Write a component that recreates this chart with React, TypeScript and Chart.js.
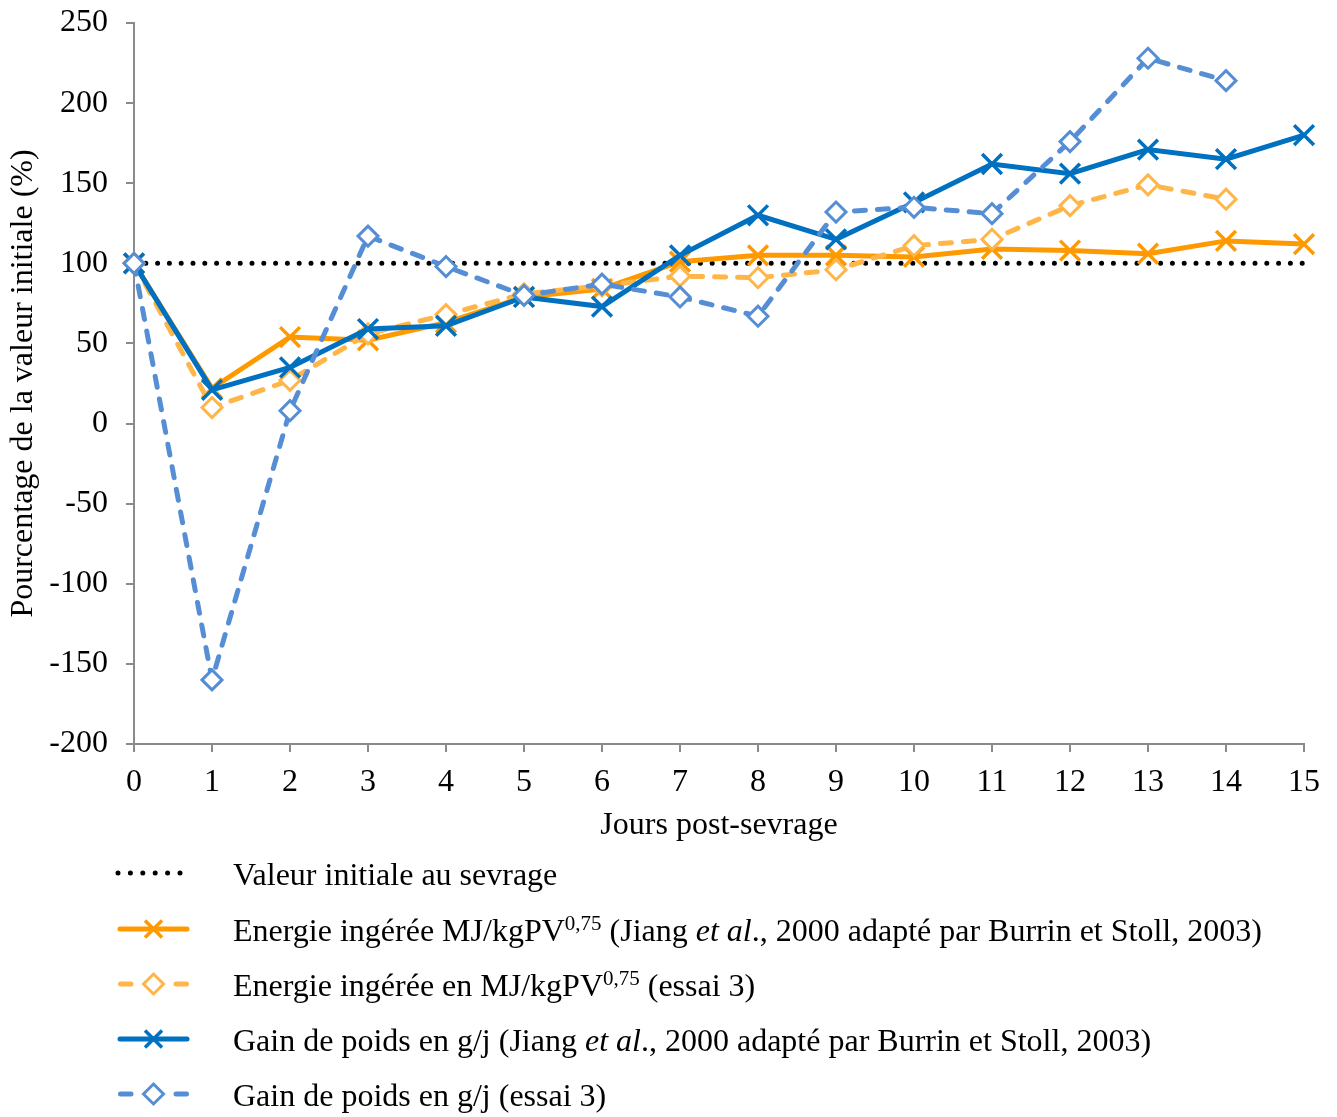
import React, { useEffect, useRef } from 'react';
import { Chart, registerables } from 'chart.js';

Chart.register(...registerables);

// ---- Data ----
const days = [0, 1, 2, 3, 4, 5, 6, 7, 8, 9, 10, 11, 12, 13, 14, 15];
const valeurInitiale = [100, 100, 100, 100, 100, 100, 100, 100, 100, 100, 100, 100, 100, 100, 100, 100];
const energieJiang = [100, 22, 54, 52, 63, 79, 84, 101, 105, 105, 104, 109, 108, 106, 114, 112];
const energieEssai3 = [100, 10, 27, 56, 68, 81, 86, 92, 91, 96, 111, 115, 136, 149, 140, null];
const gainJiang = [100, 21, 35, 59, 61, 79, 73, 105, 130, 115, 138, 162, 156, 171, 165, 180];
const gainEssai3 = [100, -160, 8, 117, 98, 80, 87, 79, 67, 132, 135, 131, 176, 228, 214, null];

const yMin = -200;
const yMax = 250;
const yStep = 50;
const xTitle = 'Jours post-sevrage';
const yTitle = 'Pourcentage de la valeur initiale (%)';

type Part = { text: string; sup?: boolean; italic?: boolean };
const legendLabels: Part[][] = [
  [{ text: 'Valeur initiale au sevrage' }],
  [
    { text: 'Energie ingérée MJ/kgPV' },
    { text: '0,75', sup: true },
    { text: ' (Jiang ' },
    { text: 'et al', italic: true },
    { text: '., 2000 adapté par Burrin et Stoll, 2003)' },
  ],
  [
    { text: 'Energie ingérée en MJ/kgPV' },
    { text: '0,75', sup: true },
    { text: ' (essai 3)' },
  ],
  [
    { text: 'Gain de poids en g/j (Jiang ' },
    { text: 'et al', italic: true },
    { text: '., 2000 adapté par Burrin et Stoll, 2003)' },
  ],
  [{ text: 'Gain de poids en g/j (essai 3)' }],
];
const legendKinds = ['dotted', 'cross', 'diamond', 'cross', 'diamond'];

const FONT = "'Liberation Serif', 'Times New Roman', Times, serif";
const W = 1337;
const H = 1117;

const toPoints = (vals: (number | null)[]) =>
  days
    .map((d, i) => ({ x: d, y: vals[i] }))
    .filter((p) => p.y !== null && p.y !== undefined);

const legendPlugin = {
  id: 'customLegend',
  afterDraw(chart: any) {
    const ctx = chart.ctx as CanvasRenderingContext2D;
    const rowY = [873, 929, 984, 1039, 1094];
    const textX = 233;
    const xm = 153.5;
    chart.data.datasets.forEach((ds: any, i: number) => {
      const y = rowY[i];
      const kind = legendKinds[i];
      ctx.save();
      ctx.strokeStyle = ds.borderColor;
      ctx.lineWidth = ds.borderWidth;
      ctx.lineCap = 'round';
      if (kind === 'dotted') {
        ctx.setLineDash([0, 12.4]);
        ctx.beginPath();
        ctx.moveTo(118, y);
        ctx.lineTo(181, y);
        ctx.stroke();
      } else if (kind === 'cross') {
        ctx.beginPath();
        ctx.moveTo(120, y);
        ctx.lineTo(187, y);
        ctx.stroke();
        const s = 8.5;
        ctx.lineWidth = 3.5;
        ctx.lineCap = 'butt';
        ctx.beginPath();
        ctx.moveTo(xm - s, y - s);
        ctx.lineTo(xm + s, y + s);
        ctx.moveTo(xm - s, y + s);
        ctx.lineTo(xm + s, y - s);
        ctx.stroke();
      } else {
        ctx.beginPath();
        ctx.moveTo(120.5, y);
        ctx.lineTo(131, y);
        ctx.moveTo(176, y);
        ctx.lineTo(186.5, y);
        ctx.stroke();
        const r = 10;
        ctx.lineWidth = 3;
        ctx.lineCap = 'butt';
        ctx.fillStyle = '#fff';
        ctx.beginPath();
        ctx.moveTo(xm, y - r);
        ctx.lineTo(xm + r, y);
        ctx.lineTo(xm, y + r);
        ctx.lineTo(xm - r, y);
        ctx.closePath();
        ctx.fill();
        ctx.stroke();
      }
      ctx.restore();

      ctx.save();
      let x = textX;
      const base = y + 12;
      ctx.fillStyle = '#000';
      ctx.textBaseline = 'alphabetic';
      ctx.textAlign = 'left';
      for (const p of legendLabels[i]) {
        ctx.font = p.sup ? `21px ${FONT}` : p.italic ? `italic 32px ${FONT}` : `32px ${FONT}`;
        ctx.fillText(p.text, x, p.sup ? base - 11 : base);
        x += ctx.measureText(p.text).width;
      }
      ctx.restore();
    });
  },
};

export default function App() {
  const ref = useRef<HTMLCanvasElement | null>(null);

  useEffect(() => {
    if (!ref.current) return;
    const axisColor = '#8a8a8a';
    const tickFont = { family: FONT, size: 32 };
    const chart = new Chart(ref.current, {
      type: 'line',
      data: {
        datasets: [
          {
            label: 'Valeur initiale au sevrage',
            data: toPoints(valeurInitiale),
            borderColor: '#000000',
            borderWidth: 5,
            borderDash: [0, 11.8],
            borderCapStyle: 'round',
            pointRadius: 0,
            clip: false,
            order: 5,
          },
          {
            label: 'Energie ingérée MJ/kgPV0,75 (Jiang et al., 2000 adapté par Burrin et Stoll, 2003)',
            data: toPoints(energieJiang),
            borderColor: '#FF9900',
            borderWidth: 5,
            pointStyle: 'crossRot',
            pointRadius: 14,
            pointBorderWidth: 3.5,
            pointBorderColor: '#FF9900',
            clip: false,
            order: 4,
          },
          {
            label: 'Energie ingérée en MJ/kgPV0,75 (essai 3)',
            data: toPoints(energieEssai3),
            borderColor: '#FFB547',
            borderWidth: 5,
            borderDash: [11, 12],
            borderCapStyle: 'round',
            pointStyle: 'rectRot',
            pointRadius: 10,
            pointBorderWidth: 3,
            pointBorderColor: '#FFB547',
            pointBackgroundColor: '#ffffff',
            clip: false,
            order: 3,
          },
          {
            label: 'Gain de poids en g/j (Jiang et al., 2000 adapté par Burrin et Stoll, 2003)',
            data: toPoints(gainJiang),
            borderColor: '#0070C0',
            borderWidth: 5,
            pointStyle: 'crossRot',
            pointRadius: 14,
            pointBorderWidth: 3.5,
            pointBorderColor: '#0070C0',
            clip: false,
            order: 2,
          },
          {
            label: 'Gain de poids en g/j (essai 3)',
            data: toPoints(gainEssai3),
            borderColor: '#558ED5',
            borderWidth: 5,
            borderDash: [11, 12],
            borderCapStyle: 'round',
            pointStyle: 'rectRot',
            pointRadius: 10,
            pointBorderWidth: 3,
            pointBorderColor: '#558ED5',
            pointBackgroundColor: '#ffffff',
            clip: false,
            order: 1,
          },
        ],
      },
      options: {
        responsive: false,
        animation: false,
        layout: { padding: { left: 0, top: 23, right: 33, bottom: 272 } },
        plugins: {
          legend: { display: false },
          tooltip: { enabled: false },
        },
        scales: {
          x: {
            type: 'linear',
            min: days[0],
            max: days[days.length - 1],
            ticks: { stepSize: 1, font: tickFont, color: '#000', padding: 11 },
            grid: { drawOnChartArea: false, drawTicks: true, tickLength: 8, color: axisColor, lineWidth: 2 },
            border: { color: axisColor, width: 2 },
            title: {
              display: true,
              text: xTitle,
              font: tickFont,
              color: '#000',
              padding: { top: 0, bottom: 0 },
            },
            afterFit: (s: any) => {
              s.height = 101;
              s.paddingLeft = 0;
              s.paddingRight = 0;
            },
          },
          y: {
            min: yMin,
            max: yMax,
            ticks: { stepSize: yStep, font: tickFont, color: '#000', padding: 18 },
            grid: { drawOnChartArea: false, drawTicks: true, tickLength: 8, color: axisColor, lineWidth: 2 },
            border: { color: axisColor, width: 2 },
            title: {
              display: true,
              text: yTitle,
              font: tickFont,
              color: '#000',
              padding: { top: 4, bottom: 0 },
            },
            afterFit: (s: any) => {
              s.width = 134;
              s.paddingTop = 0;
              s.paddingBottom = 0;
            },
          },
        },
      },
      plugins: [legendPlugin],
    } as any);
    return () => chart.destroy();
  }, []);

  return (
    <div style={{ position: 'absolute', left: 0, top: 0, width: W, height: H, background: '#fff' }}>
      <canvas ref={ref} width={W} height={H} style={{ display: 'block', width: W, height: H }} />
    </div>
  );
}
